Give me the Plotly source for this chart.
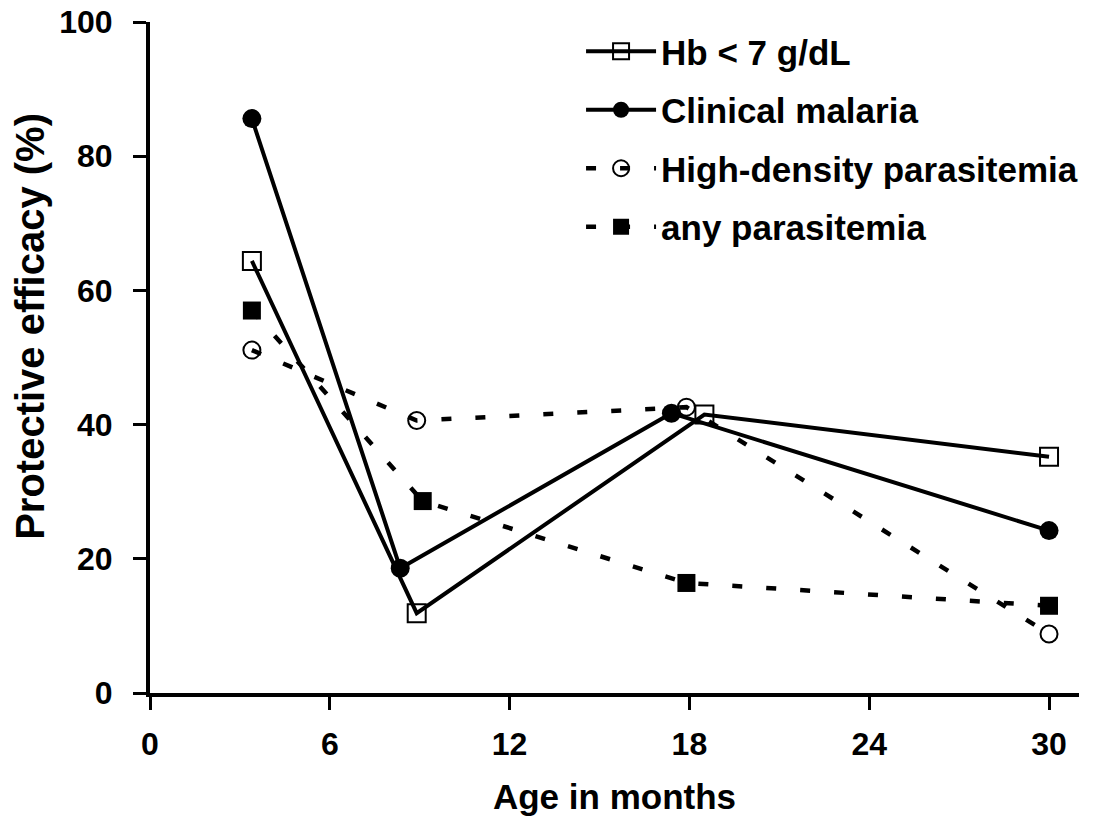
import plotly.graph_objects as go

# Protective efficacy by age, per outcome
series_names = ["Hb < 7 g/dL", "Clinical malaria", "High-density parasitemia", "any parasitemia"]

hb_age = [3.4, 8.9, 18.5, 30.0]
hb_eff = [64.4, 11.9, 41.5, 35.2]

cm_age = [3.4, 8.35, 17.4, 30.0]
cm_eff = [85.6, 18.6, 41.7, 24.2]

hd_age = [3.4, 8.9, 17.9, 30.0]
hd_eff = [51.1, 40.6, 42.6, 8.8]

ap_age = [3.4, 9.1, 17.9, 30.0]
ap_eff = [57.0, 28.6, 16.4, 13.0]

x_ticks = [0, 6, 12, 18, 24, 30]
y_ticks = [0, 20, 40, 60, 80, 100]

FONT = "Liberation Sans, Arial, Helvetica, sans-serif"
DASH = "10px,24px"

fig = go.Figure()

# dashed series first so the solid ones sit on top
fig.add_trace(go.Scatter(
    x=hd_age, y=hd_eff, name=series_names[2], legendgroup="g3", legendrank=3,
    mode="lines+markers",
    line=dict(color="black", width=4.5, dash=DASH),
    marker=dict(symbol="circle-open", size=17, color="black", line=dict(width=2)),
))
fig.add_trace(go.Scatter(
    x=ap_age, y=ap_eff, name=series_names[3], legendgroup="g4", legendrank=4,
    mode="lines+markers",
    line=dict(color="black", width=4.5, dash=DASH),
    marker=dict(symbol="square", size=18, color="black"),
))
fig.add_trace(go.Scatter(
    x=hb_age, y=hb_eff, name=series_names[0], legendgroup="g1", legendrank=1,
    mode="lines+markers",
    line=dict(color="black", width=4),
    marker=dict(symbol="square-open", size=18, color="black", line=dict(width=2)),
))
fig.add_trace(go.Scatter(
    x=cm_age, y=cm_eff, name=series_names[1], legendgroup="g2", legendrank=2,
    mode="lines+markers",
    line=dict(color="black", width=4),
    marker=dict(symbol="circle", size=19, color="black"),
))

axis_common = dict(
    showline=True, linecolor="black", linewidth=4,
    ticks="outside", ticklen=13, tickwidth=3, tickcolor="black",
    showgrid=False, zeroline=False, automargin=False,
    tickfont=dict(family=FONT, size=32, color="black", weight="bold"),
)

fig.update_xaxes(
    range=[0, 31], tickvals=x_ticks, ticktext=[str(v) for v in x_ticks],
    ticklabelstandoff=7,
    title=dict(text="Age in months", standoff=24,
               font=dict(family=FONT, size=35, color="black", weight="bold")),
    **axis_common,
)
fig.update_yaxes(
    range=[0, 100], tickvals=y_ticks, ticktext=[str(v) for v in y_ticks],
    ticklabelstandoff=14,
    **axis_common,
)

# y-axis title placed as an annotation, a little above the axis centre
fig.add_annotation(
    text="Protective efficacy (%)", textangle=-90,
    xref="paper", yref="paper", x=-0.13, y=0.546,
    xanchor="center", yanchor="middle", showarrow=False,
    font=dict(family=FONT, size=40, color="black", weight="bold"),
)

fig.update_layout(
    width=1094, height=821,
    margin=dict(l=150, r=15, t=22, b=128, autoexpand=False),
    paper_bgcolor="white", plot_bgcolor="white",
    showlegend=True,
    legend=dict(
        x=0.464, y=1.0, xanchor="left", yanchor="top",
        bgcolor="rgba(0,0,0,0)", borderwidth=0,
        font=dict(family=FONT, size=35, color="black", weight="bold"),
        itemwidth=70, tracegroupgap=10, traceorder="grouped",
    ),
)

fig.write_html("out.html")
